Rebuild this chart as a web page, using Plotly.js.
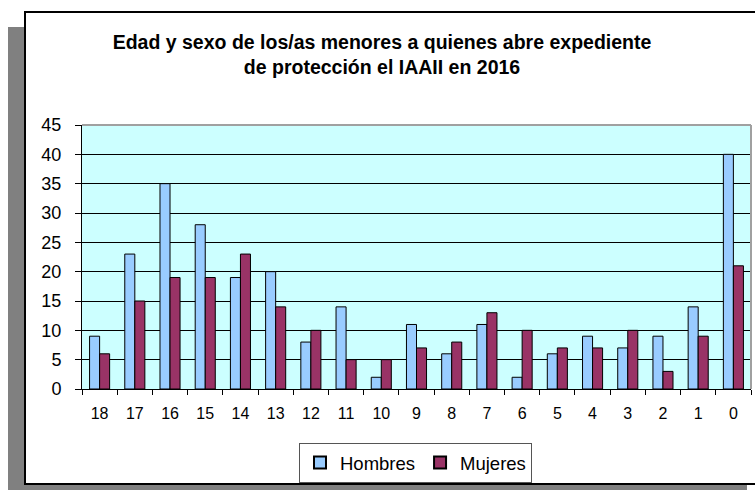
<!DOCTYPE html>
<html>
<head>
<meta charset="utf-8">
<script src="https://cdn.plot.ly/plotly-3.0.1.min.js"></script>
<style>
  html, body { margin: 0; padding: 0; background: #ffffff; }
  #wrap { position: relative; width: 755px; height: 490px; overflow: hidden; background: #ffffff; }
  #shadow { position: absolute; left: 8px; top: 27px; width: 739px; height: 480px; background: #808080; }
  #frame { position: absolute; left: 24px; top: 11px; width: 740px; height: 470px; background: #ffffff; border: 2px solid #000000; }
  #chart { position: absolute; left: 0; top: 0; width: 755px; height: 490px; }
</style>
</head>
<body>
<div id="wrap">
  <div id="shadow"></div>
  <div id="frame"></div>
  <div id="chart"></div>
</div>
<script>
const categories = ['18','17','16','15','14','13','12','11','10','9','8','7','6','5','4','3','2','1','0'];
const hombres = [9, 23, 35, 28, 19, 20, 8, 14, 2, 11, 6, 11, 2, 6, 9, 7, 9, 14, 40];
const mujeres = [6, 15, 19, 19, 23, 14, 10, 5, 5, 7, 8, 13, 10, 7, 7, 10, 3, 9, 21];
const yTicks = [0, 5, 10, 15, 20, 25, 30, 35, 40, 45];

const traces = [
  { type: 'bar', name: 'Hombres', x: categories, y: hombres,
    marker: { color: '#99CCFF', line: { color: '#000000', width: 1 } } },
  { type: 'bar', name: 'Mujeres', x: categories, y: mujeres,
    marker: { color: '#993366', line: { color: '#000000', width: 1 } } }
];

const layout = {
  width: 755, height: 490,
  paper_bgcolor: 'rgba(0,0,0,0)',
  plot_bgcolor: '#CCFFFF',
  margin: { l: 82, r: 4, t: 125, b: 101, pad: 0 },
  font: { family: '"Liberation Sans", Arial, sans-serif', color: '#000000' },
  title: {
    text: '<b>Edad y sexo de los/as menores a quienes abre expediente<br>de protección el IAAII en 2016</b>',
    font: { size: 19.5, family: '"Liberation Sans", Arial, sans-serif', color: '#000000' },
    x: 382 / 755, xref: 'container', xanchor: 'center',
    y: 1 - 49 / 490, yref: 'container', yanchor: 'top'
  },
  barmode: 'group',
  bargap: 0.43,
  bargroupgap: 0,
  showlegend: true,
  legend: {
    orientation: 'h',
    x: 0.4985, xanchor: 'center',
    y: -0.2045, yanchor: 'top',
    bgcolor: '#ffffff',
    bordercolor: '#555555', borderwidth: 1,
    font: { size: 18.5, family: '"Liberation Sans", Arial, sans-serif', color: '#000000' },
    itemwidth: 30,
    itemsizing: 'constant'
  },
  xaxis: {
    type: 'category',
    categoryorder: 'array', categoryarray: categories,
    showline: true, linecolor: '#000000', linewidth: 1,
    ticks: 'outside', ticklen: 5, tickcolor: '#000000', tickwidth: 1,
    tickson: 'boundaries',
    ticklabelstandoff: 10,
    tickfont: { size: 16 },
    showgrid: false, zeroline: false, fixedrange: true
  },
  yaxis: {
    range: [0, 45],
    tickvals: yTicks,
    showline: true, linecolor: '#000000', linewidth: 1,
    ticks: 'outside', ticklen: 6, tickcolor: '#000000', tickwidth: 1,
    ticklabelstandoff: 10,
    tickfont: { size: 18 },
    showgrid: true, gridcolor: '#000000', gridwidth: 1,
    zeroline: false, fixedrange: true
  },
  shapes: [
    { type: 'line', xref: 'paper', yref: 'paper', x0: 0, x1: 1, y0: 1, y1: 1,
      line: { color: '#A0A0A0', width: 2 }, layer: 'above' },
    { type: 'line', xref: 'paper', yref: 'paper', x0: 1, x1: 1, y0: 0, y1: 1,
      line: { color: '#A0A0A0', width: 2 }, layer: 'above' }
  ]
};

Plotly.newPlot('chart', traces, layout, { displayModeBar: false, staticPlot: true });
</script>
</body>
</html>
